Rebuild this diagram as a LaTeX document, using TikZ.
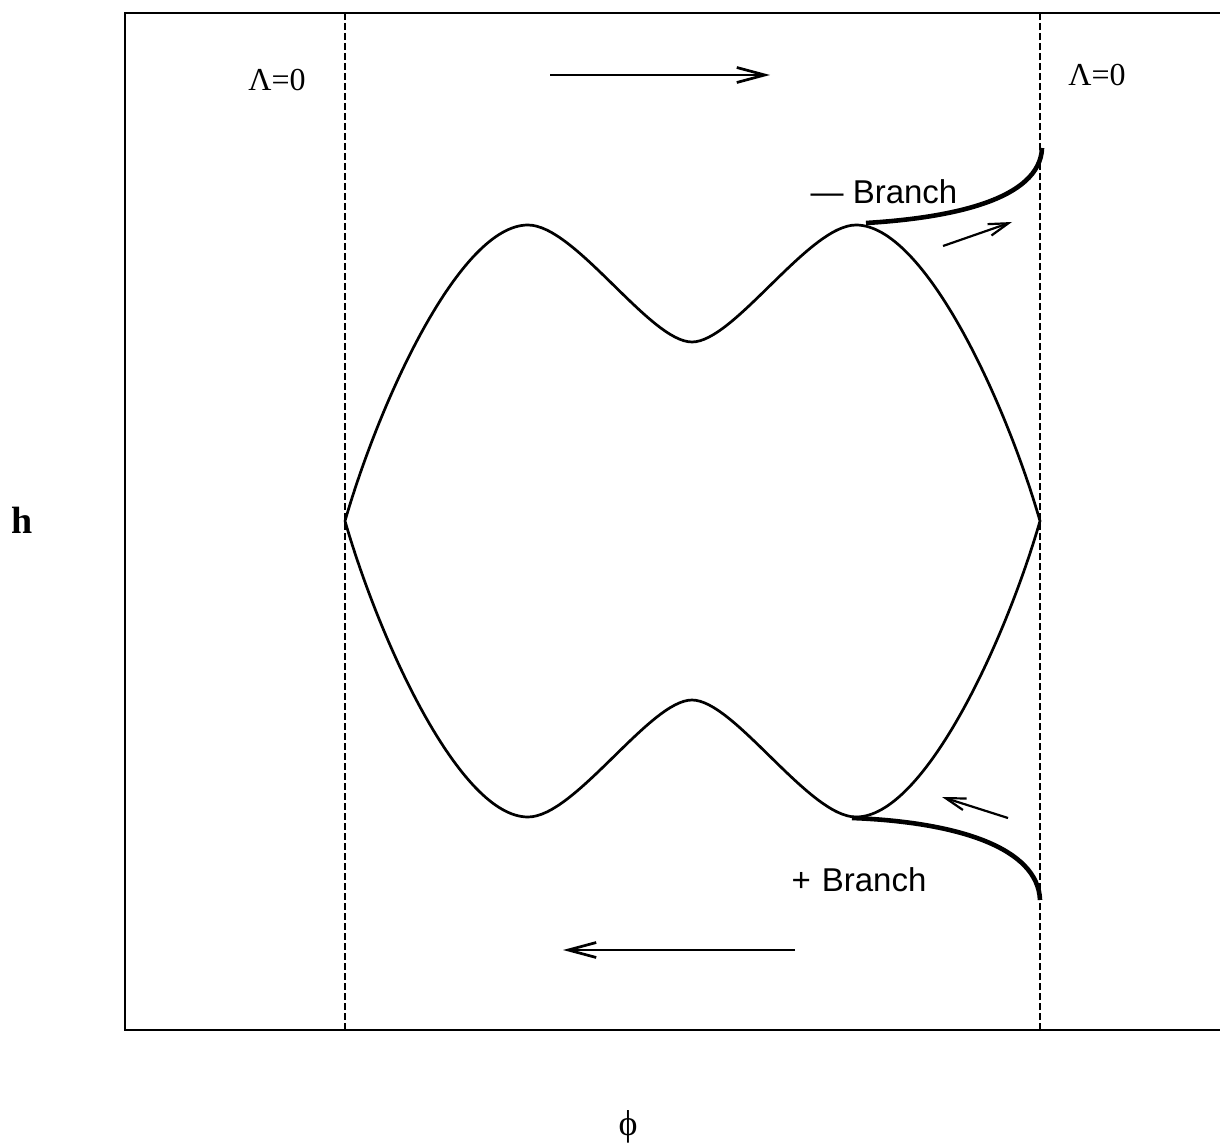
\documentclass[tikz,border=0pt]{standalone}
\usepackage{fontspec}
\setmainfont{Liberation Serif}
\newfontfamily\sansf{Liberation Sans}
\usetikzlibrary{arrows.meta}
\begin{document}
\begin{tikzpicture}[x=0.5pt,y=-0.5pt,
  frame/.style={line width=1.3pt},
  guide/.style={line width=1pt, dash pattern=on 3.5pt off 1.5pt},
  orbit/.style={line width=1.35pt},
  branchline/.style={line width=2.3pt},
  bigarrow/.style={line width=1.35pt,-{Straight Barb[length=14pt,width=7.5pt]}},
  smallarrow/.style={line width=1.1pt,-{Straight Barb[length=10pt,width=6pt]}},
  serlabel/.style={font=\fontsize{16}{18}\selectfont, inner sep=0pt},
  sanslabel/.style={font=\sansf\fontsize{16.5}{20}\selectfont, inner sep=0pt}
]
\useasboundingbox (0,0) rectangle (1220,1144);
% frame
\coordinate (fTR) at (1220,13);
\coordinate (fTL) at (125,13);
\coordinate (fBL) at (125,1030);
\coordinate (fBR) at (1220,1030);
\draw[frame] (fTR) -- (fTL) -- (fBL) -- (fBR);
% dashed guides
\coordinate (gLt) at (345,13);
\coordinate (gLb) at (345,1030);
\coordinate (gRt) at (1040,13);
\coordinate (gRb) at (1040,1030);
\draw[guide] (gLt) -- (gLb);
\draw[guide] (gRt) -- (gRb);
% labels
\node[serlabel] (lamL) at (277,80) {Λ=0};
\node[serlabel] (lamR) at (1097,75) {Λ=0};
\node[font=\bfseries\fontsize{19}{22}\selectfont, inner sep=0pt] (hlab) at (22,520) {h};
\node[font=\fontsize{18}{22}\selectfont, inner sep=0pt] (philab) at (628,1127) {ϕ};
\node[sanslabel] (minusb) at (884,192) {— Branch};
\node[sanslabel] (plusb) at (859,880) {+\,\,Branch};
% orbit
\coordinate (L) at (345,521);
\coordinate (R) at (1040,521);
\draw[orbit] (L) .. controls (380,400) and (460,225) .. (528,225)
  .. controls (575,225) and (650,342) .. (692,342)
  .. controls (734,342) and (809,225) .. (856,225)
  .. controls (924,225) and (1005,400) .. (R)
  .. controls (1005,642) and (924,817) .. (856,817)
  .. controls (809,817) and (734,700) .. (692,700)
  .. controls (650,700) and (575,817) .. (528,817)
  .. controls (460,817) and (380,642) .. (L);
% branches
\coordinate (tb0) at (866,223);
\coordinate (tb1) at (1042,148);
\draw[branchline] (tb0) .. controls (950,218) and (1040,200) .. (tb1);
\coordinate (bb0) at (852,818);
\coordinate (bb1) at (1040,900);
\draw[branchline] (bb0) .. controls (958,822) and (1038,848) .. (bb1);
% small arrows
\coordinate (sa0) at (943,246);
\coordinate (sa1) at (1012,222);
\draw[smallarrow] (sa0) -- (sa1);
\coordinate (sb0) at (1008,818);
\coordinate (sb1) at (942,797);
\draw[smallarrow] (sb0) -- (sb1);
% big arrows
\coordinate (ta0) at (550,75);
\coordinate (ta1) at (770,75);
\draw[bigarrow] (ta0) -- (ta1);
\coordinate (ba0) at (795,950);
\coordinate (ba1) at (563,950);
\draw[bigarrow] (ba0) -- (ba1);
\end{tikzpicture}
\end{document}
